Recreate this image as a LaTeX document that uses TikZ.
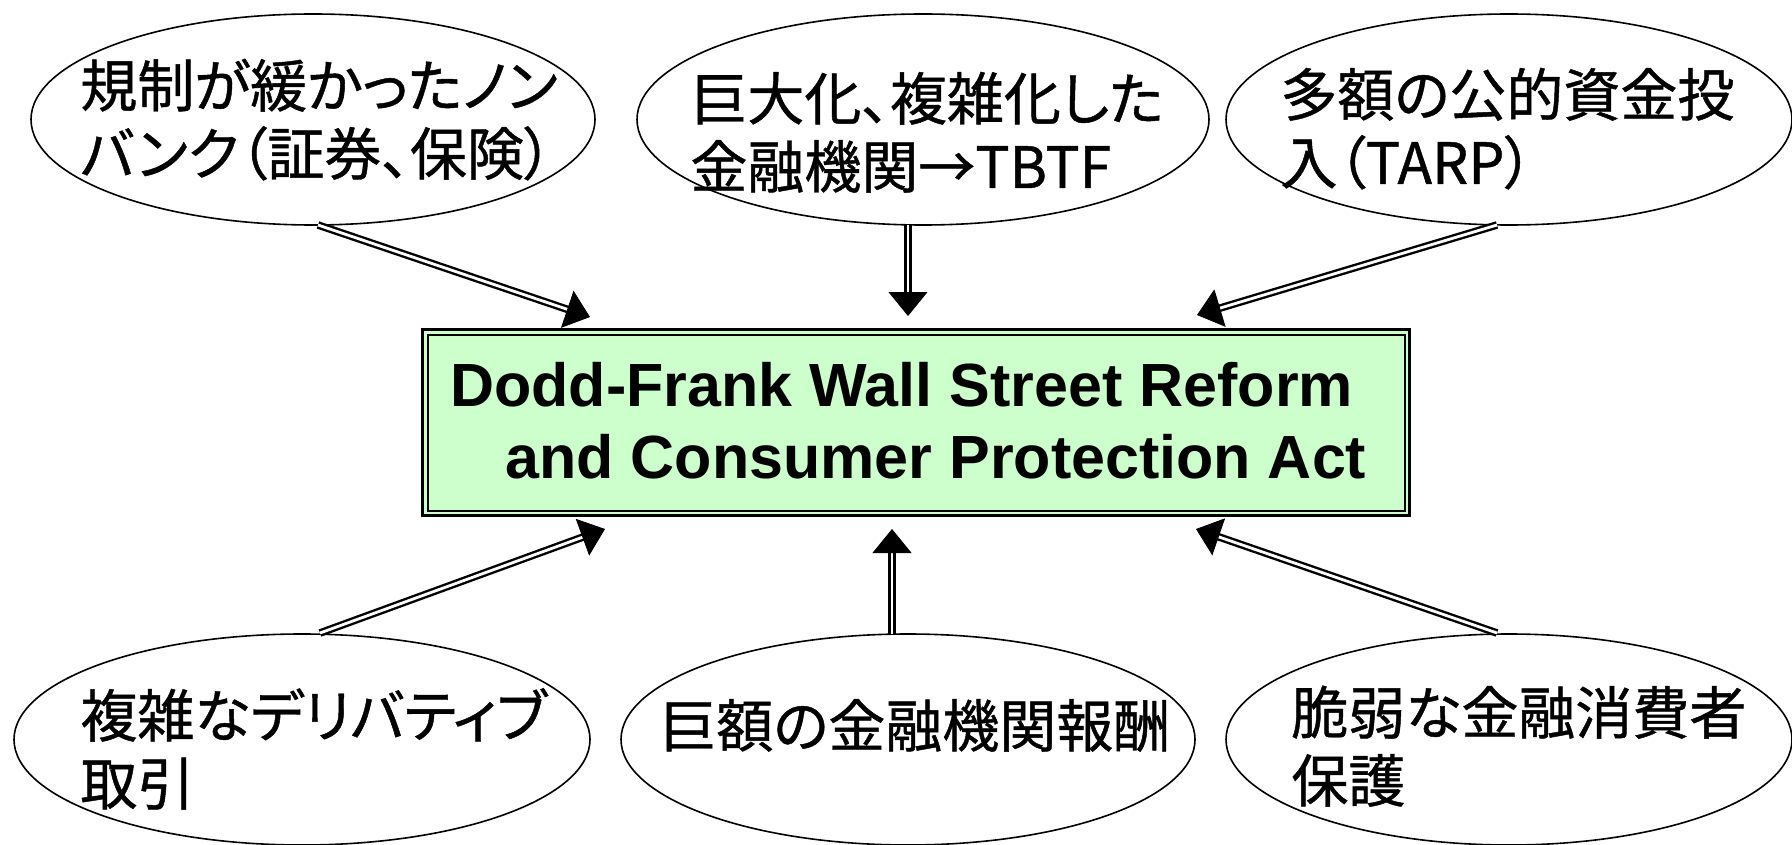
\documentclass[tikz,border=0pt]{standalone}
\usepackage{fontspec}
\setmainfont{Liberation Sans}
\newfontfamily\jp[RawFeature=+palt,FakeBold=0.8]{Noto Sans CJK JP}
\usetikzlibrary{shapes.geometric,arrows.meta,calc}
\definecolor{boxgreen}{HTML}{CCFFCC}
\begin{document}
\begin{tikzpicture}[x=0.5pt,y=-0.5pt,
  ell/.style={draw, ellipse, line width=0.8pt, inner sep=0pt, outer sep=0pt, minimum height=105.5pt},
  jtext/.style={font=\jp\fontsize{28.5}{34}\selectfont, align=left, anchor=base west, inner sep=0pt},
  shaft/.style={draw=black, line width=1.2pt, double=white, double distance=1.4pt, shorten >=9pt},
  head/.style={draw=white, line width=0.4pt, -{Triangle[length=12pt,width=19.5pt,color=black]}}]
\useasboundingbox (0,0) rectangle (1792,845);
% ellipses
\node[ell, minimum width=282pt] (e1) at (313,119.5) {};
\node[ell, minimum width=286pt] (e2) at (923,119.5) {};
\node[ell, minimum width=283pt] (e3) at (1509,119.5) {};
\node[ell, minimum width=288pt] (e4) at (302,739.5) {};
\node[ell, minimum width=287pt] (e5) at (908,739.5) {};
\node[ell, minimum width=283pt] (e6) at (1509,739.5) {};
% texts (anchor = baseline of the last line)
\node[jtext] (t1) at (80,175) {規制が緩かったノン\\バンク（証券、保険）};
\node[jtext] (t2) at (690,188) {巨大化、複雑化した\\金融機関→TBTF};
\node[jtext] (t3) at (1280,184) {多額の公的資金投\\入（TARP）};
\node[jtext] (t4) at (80,805) {複雑なデリバティブ\\取引};
\node[jtext] (t5) at (659,747) {巨額の金融機関報酬};
\node[jtext] (t6) at (1291,802) {脆弱な金融消費者\\保護};
% central box
\node[draw, line width=1.5pt, fill=boxgreen, minimum width=493.5pt, minimum height=93pt,
      inner sep=0pt, outer sep=0pt] (box) at (916,422.5) {};
\draw[line width=1pt] ($(box.north west)+(5,5)$) rectangle ($(box.south east)+(-5,-5)$);
\node[font=\bfseries\fontsize{30.5}{36}\selectfont, align=left, anchor=base west, inner sep=0pt]
  (title) at (450,478) {Dodd-Frank Wall Street Reform\\\hspace*{27.5pt}and Consumer Protection Act};
% connector ends
\coordinate (s1) at ($(e1.south)+(5,0)$);
\coordinate (h1) at ($(box.north west)+(167.5,-12.5)$);
\coordinate (s2) at ($(e2.south)+(-15,0)$);
\coordinate (h2) at ($(box.north)+(-8,-13.5)$);
\coordinate (s3) at ($(e3.south)+(-12,0)$);
\coordinate (h3) at ($(box.north east)+(-212.5,-14.5)$);
\coordinate (s4) at ($(e4.north)+(18,-1)$);
\coordinate (h4) at ($(box.south west)+(182.5,13.5)$);
\coordinate (s5) at ($(e5.north)+(-16,0)$);
\coordinate (h5) at ($(box.south)+(-24,13.5)$);
\coordinate (s6) at ($(e6.north)+(-12,-1)$);
\coordinate (h6) at ($(box.south east)+(-213.5,13.5)$);
\foreach \i in {1,...,6}{
  \draw[shaft] (s\i) -- (h\i);
  \draw[head] (s\i) -- (h\i);
}
\end{tikzpicture}
\end{document}
